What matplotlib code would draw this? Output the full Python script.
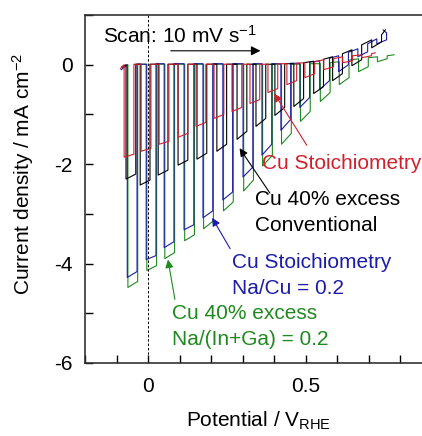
"""
Chopped-light LSV of CIGS photocathodes (four film recipes), redrawn from the figure.
Values are read off the picture: potential of each light pulse, photocurrent at the start
and end of each pulse, and the dark current just before / after each pulse.
"""
import matplotlib
matplotlib.use("Agg")
import matplotlib.pyplot as plt
from matplotlib.ticker import MultipleLocator

plt.rcParams["font.family"] = ["Liberation Sans", "DejaVu Sans"]
plt.rcParams["axes.unicode_minus"] = False
plt.rcParams["mathtext.default"] = "regular"

PULSE_WIDTH = 0.031  # V, light-on duration at 10 mV/s
FS = 15

# Cu 40% excess, Na/(In+Ga) = 0.2  (green)
GREEN_ON = [-0.064, -0.004, 0.053, 0.116, 0.176, 0.239, 0.303, 0.363, 0.423, 0.483, 0.546, 0.606, 0.667, 0.727]
GREEN_J0 = [-4.48, -4.14, -3.90, -3.54, -3.30, -2.94, -2.54, -2.04, -1.60, -1.14, -0.74, -0.40, -0.14, 0.06]
GREEN_J1 = [-4.36, -4.04, -3.78, -3.42, -3.14, -2.76, -2.32, -1.82, -1.38, -0.94, -0.56, -0.26, -0.04, 0.12]
GREEN_DARK0 = [0.00, 0.01, 0.01, 0.01, 0.01, 0.01, 0.01, 0.01, 0.01, 0.01, 0.02, 0.06, 0.12, 0.16]
GREEN_DARK1 = [0.01, 0.01, 0.01, 0.01, 0.01, 0.01, 0.01, 0.01, 0.01, 0.02, 0.04, 0.09, 0.14, 0.18]
GREEN_START = (-0.082, -0.06)
GREEN_END = (0.78, 0.20)

# Cu stoichiometry, Na/Cu = 0.2  (blue)
BLUE_ON = [-0.066, -0.006, 0.051, 0.114, 0.174, 0.237, 0.301, 0.361, 0.421, 0.481, 0.544, 0.604, 0.665, 0.725]
BLUE_J0 = [-4.28, -3.92, -3.68, -3.32, -3.08, -2.72, -2.26, -1.82, -1.32, -0.86, -0.50, -0.14, 0.16, 0.42]
BLUE_J1 = [-4.16, -3.84, -3.56, -3.22, -2.94, -2.56, -2.06, -1.60, -1.10, -0.66, -0.32, 0.00, 0.26, 0.50]
BLUE_DARK0 = [0.00, 0.01, 0.02, 0.02, 0.02, 0.02, 0.02, 0.02, 0.02, 0.03, 0.08, 0.18, 0.32, 0.52]
BLUE_DARK1 = [0.01, 0.02, 0.02, 0.02, 0.02, 0.02, 0.02, 0.02, 0.03, 0.05, 0.13, 0.25, 0.42, 0.64]
BLUE_START = (-0.085, -0.10)
BLUE_END = (0.745, 0.70)

# Cu 40% excess, conventional  (black)
BLACK_ON = [-0.070, -0.025, 0.032, 0.095, 0.155, 0.218, 0.282, 0.342, 0.402, 0.462, 0.525, 0.585, 0.646, 0.709]
BLACK_J0 = [-2.30, -2.42, -2.22, -2.02, -1.90, -1.74, -1.50, -1.24, -1.02, -0.84, -0.58, -0.32, -0.02, 0.34]
BLACK_J1 = [-2.20, -2.32, -2.12, -1.92, -1.78, -1.60, -1.34, -1.08, -0.86, -0.68, -0.44, -0.18, 0.10, 0.46]
BLACK_DARK0 = [0.00, 0.01, 0.01, 0.01, 0.01, 0.01, 0.01, 0.01, 0.01, 0.02, 0.07, 0.16, 0.30, 0.50]
BLACK_DARK1 = [0.01, 0.01, 0.01, 0.01, 0.01, 0.01, 0.01, 0.01, 0.02, 0.04, 0.11, 0.22, 0.40, 0.60]
BLACK_START = (-0.083, -0.04)
BLACK_END = (0.752, 0.70)

# Cu stoichiometry, conventional  (red)
RED_ON = [-0.076, -0.022, 0.035, 0.095, 0.152, 0.209, 0.266, 0.323, 0.380, 0.440, 0.497, 0.557, 0.617, 0.677]
RED_J0 = [-1.86, -1.74, -1.60, -1.46, -1.24, -1.08, -0.94, -0.78, -0.56, -0.40, -0.26, -0.10, 0.04, 0.14]
RED_J1 = [-1.80, -1.68, -1.54, -1.38, -1.16, -1.00, -0.86, -0.70, -0.48, -0.32, -0.18, -0.04, 0.08, 0.18]
RED_DARK0 = [0.00, 0.01, 0.01, 0.01, 0.01, 0.01, 0.01, 0.01, 0.01, 0.02, 0.04, 0.10, 0.16, 0.20]
RED_DARK1 = [0.01, 0.01, 0.01, 0.01, 0.01, 0.01, 0.01, 0.01, 0.02, 0.03, 0.06, 0.12, 0.18, 0.22]
RED_START = (-0.088, -0.08)
RED_END = (0.72, 0.24)

C_RED = "#d0202c"
C_BLACK = "#000000"
C_BLUE = "#1c1ca8"
C_GREEN = "#1f8a1f"


def chopped_trace(on, j0, j1, dark0, dark1, start, end):
    xs, ys = [start[0]], [start[1]]
    for v, a, b, d0, d1 in zip(on, j0, j1, dark0, dark1):
        off = v + PULSE_WIDTH
        xs += [v, v, off, off]
        ys += [d0, a, b, d1]
    xs.append(end[0]); ys.append(end[1])
    return xs, ys


fig = plt.figure(figsize=(4.22, 4.36), dpi=100)
ax = fig.add_axes([85 / 422, 73 / 436, 347 / 422, 348 / 436])

series = [
    (GREEN_ON, GREEN_J0, GREEN_J1, GREEN_DARK0, GREEN_DARK1, GREEN_START, GREEN_END, C_GREEN),
    (BLUE_ON, BLUE_J0, BLUE_J1, BLUE_DARK0, BLUE_DARK1, BLUE_START, BLUE_END, C_BLUE),
    (BLACK_ON, BLACK_J0, BLACK_J1, BLACK_DARK0, BLACK_DARK1, BLACK_START, BLACK_END, C_BLACK),
    (RED_ON, RED_J0, RED_J1, RED_DARK0, RED_DARK1, RED_START, RED_END, C_RED),
]
for on, j0, j1, d0, d1, st, en, col in series:
    x, y = chopped_trace(on, j0, j1, d0, d1, st, en)
    ax.plot(x, y, color=col, lw=0.8)

ax.axvline(0, color="black", lw=0.7, ls=(0, (2.5, 2)))

ax.set_xlim(-0.2, 0.9)
ax.set_ylim(-6, 1)
ax.xaxis.set_minor_locator(MultipleLocator(0.1))
ax.yaxis.set_minor_locator(MultipleLocator(1))
ax.set_xticks([0, 0.5])
ax.set_xticklabels(["0", "0.5"])
ax.set_yticks([0, -2, -4, -6])
ax.set_yticklabels(["0", "-2", "-4", "-6"])
ax.tick_params(which="both", direction="in", length=6, width=1.0, labelsize=FS)
ax.tick_params(axis="x", pad=10)
ax.tick_params(axis="y", pad=9)
for s in ax.spines.values():
    s.set_linewidth(1.2)
    s.set_color("#333333")

ax.set_xlabel("Potential / V$_{RHE}$", fontsize=FS)
ax.set_ylabel("Current density / mA cm$^{-2}$", fontsize=FS)
ax.xaxis.set_label_coords(0.5, -0.135)
ax.yaxis.set_label_coords(-0.14, 0.543)

# scan-rate note and arrow
ax.text(-0.142, 0.58, "Scan: 10 mV s$^{-1}$", fontsize=FS, va="center", ha="left")
ax.annotate("", xy=(0.365, 0.28), xytext=(0.063, 0.28),
            arrowprops=dict(arrowstyle="-|>", color="black", lw=0.8, mutation_scale=14))

# labels with pointer arrows
arrow = dict(arrowstyle="-|>", lw=0.8, mutation_scale=12, shrinkA=0, shrinkB=0)
ax.annotate("", xy=(0.40, -0.58), xytext=(0.503, -1.62), arrowprops=dict(arrow, color=C_RED))
ax.text(0.362, -1.98, "Cu Stoichiometry", color=C_RED, fontsize=FS, va="center", ha="left")

ax.annotate("", xy=(0.29, -1.68), xytext=(0.386, -2.58), arrowprops=dict(arrow, color=C_BLACK))
ax.text(0.339, -2.98, "Cu 40% excess\nConventional", color=C_BLACK, fontsize=FS,
        va="center", ha="left", linespacing=1.45)

ax.annotate("", xy=(0.203, -3.08), xytext=(0.26, -3.7), arrowprops=dict(arrow, color=C_BLUE))
ax.text(0.266, -4.24, "Cu Stoichiometry\nNa/Cu = 0.2", color=C_BLUE, fontsize=FS,
        va="center", ha="left", linespacing=1.45)

ax.annotate("", xy=(0.063, -3.92), xytext=(0.085, -4.72), arrowprops=dict(arrow, color=C_GREEN))
ax.text(0.076, -5.27, "Cu 40% excess\nNa/(In+Ga) = 0.2", color=C_GREEN, fontsize=FS,
        va="center", ha="left", linespacing=1.45)

fig.savefig("out.png", dpi=100)
